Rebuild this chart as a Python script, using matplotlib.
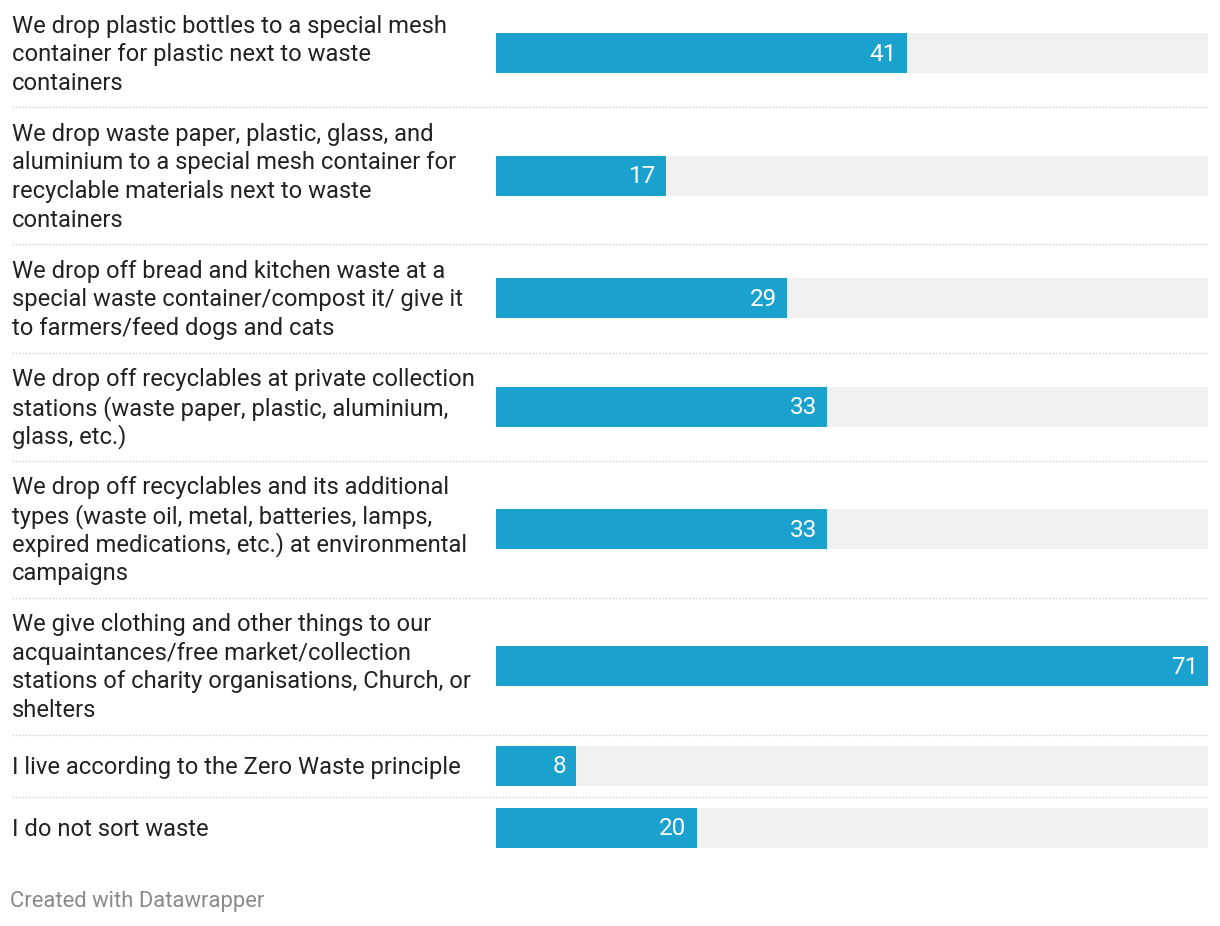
import matplotlib
matplotlib.use("Agg")
import matplotlib.pyplot as plt
import matplotlib.transforms as mtransforms

plt.rcParams['font.family'] = ['Roboto', 'DejaVu Sans']

labels = [
    "We drop plastic bottles to a special mesh\ncontainer for plastic next to waste\ncontainers",
    "We drop waste paper, plastic, glass, and\naluminium to a special mesh container for\nrecyclable materials next to waste\ncontainers",
    "We drop off bread and kitchen waste at a\nspecial waste container/compost it/ give it\nto farmers/feed dogs and cats",
    "We drop off recyclables at private collection\nstations (waste paper, plastic, aluminium,\nglass, etc.)",
    "We drop off recyclables and its additional\ntypes (waste oil, metal, batteries, lamps,\nexpired medications, etc.) at environmental\ncampaigns",
    "We give clothing and other things to our\nacquaintances/free market/collection\nstations of charity organisations, Church, or\nshelters",
    "I live according to the Zero Waste principle",
    "I do not sort waste",
]
values = [41, 17, 29, 33, 33, 71, 8, 20]
xmax = 71

W, H = 1220, 926
fig = plt.figure(figsize=(W / 100, H / 100), dpi=100)
ax = fig.add_axes([496 / W, 0, 712 / W, 1])
ax.set_xlim(0, xmax)
ax.set_ylim(H, 0)
ax.axis('off')

BAR_COL = '#1aa1cd'
BG_COL = '#f1f1f1'
TXT_COL = '#222222'
LINE_H = 28.7
PAD = 22.1
BAR_H = 40
FS = 17.1

trans_lab = mtransforms.blended_transform_factory(fig.transFigure, ax.transData)

top = -0.8
for i, (lab, v) in enumerate(zip(labels, values)):
    lines = lab.split("\n")
    n = len(lines)
    h = max(n * LINE_H, BAR_H) + PAD
    c = top + h / 2
    ax.barh(c, xmax, height=BAR_H, color=BG_COL, linewidth=0)
    ax.barh(c, v, height=BAR_H, color=BAR_COL, linewidth=0)
    ax.annotate(str(v), xy=(v, c + 1), xytext=(-10, 0), textcoords='offset pixels',
                ha='right', va='center', color='white', fontsize=17.5)
    for j, ln in enumerate(lines):
        y = c + 1.5 + (j - (n - 1) / 2) * LINE_H
        ax.text(12 / W, y, ln, transform=trans_lab, ha='left', va='center',
                color=TXT_COL, fontsize=FS)
    top += h
    if i < len(labels) - 1:
        ax.plot([12 / W, 1208 / W], [top, top], transform=trans_lab, clip_on=False,
                color='#d4d4d4', linewidth=1.0, linestyle=(0, (1.2, 1.2)))

fig.text(10 / W, 1 - 902 / H, "Created with Datawrapper", ha='left', va='center',
         color='#8a8a8a', fontsize=15.8)

fig.savefig("out.png", dpi=100, facecolor='white')
